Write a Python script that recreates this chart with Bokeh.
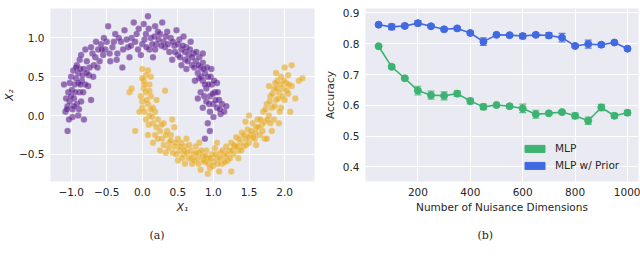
from bokeh.plotting import figure
from bokeh.layouts import row
from bokeh.models import (ColumnDataSource, FixedTicker, Whisker, TeeHead, Legend, LegendItem,
                          Title, Range1d)
from bokeh.embed import file_html
from bokeh.resources import INLINE

# ---------------- data: panel (a) two moons ----------------
moon_top = [
    (-1.08, 0.05), (-1.05, 0.12), (-1.02, 0.18), (-0.98, 0.08), (-1.10, 0.40), (-1.04, 0.30),
    (-0.96, 0.22), (-0.92, 0.15), (-0.88, 0.30), (-0.95, 0.40), (-1.00, 0.50), (-0.90, 0.55),
    (-0.85, 0.45), (-0.82, 0.60), (-0.92, 0.65), (-0.78, 0.70), (-0.88, 0.72), (-0.75, 0.52),
    (-0.70, 0.80), (-0.80, 0.85), (-0.68, 0.65), (-0.98, -0.02), (-1.05, -0.20), (-0.82, -0.05),
    (-0.90, 0.00), (-0.76, 0.38), (-0.72, 0.20), (-1.07, 0.22), (-0.99, 0.33), (-0.86, 0.18),
    (-0.93, 0.48), (-0.87, 0.60),
    (-0.62, 0.85), (-0.55, 0.78), (-0.50, 0.95), (-0.58, 0.92), (-0.45, 0.70), (-0.42, 0.88),
    (-0.38, 1.05), (-0.35, 0.80), (-0.30, 0.95), (-0.25, 1.10), (-0.20, 0.88), (-0.15, 1.00),
    (-0.18, 0.75), (-0.48, 1.15), (-0.60, 0.70), (-0.65, 0.95), (-0.52, 0.85), (-0.28, 0.62),
    (-0.10, 0.95), (-0.05, 1.12), (0.00, 0.92), (0.05, 1.05), (0.08, 1.28), (0.10, 0.85),
    (0.12, 1.00), (0.18, 1.15), (0.20, 0.92), (0.25, 1.05), (0.28, 1.20), (0.30, 0.95),
    (0.35, 1.08), (0.38, 0.82), (0.40, 1.00), (-0.02, 0.78), (0.15, 0.75), (0.02, 1.18),
    (0.22, 1.08), (-0.12, 1.20), (0.32, 0.88),
    (0.45, 0.90), (0.48, 1.10), (0.50, 0.78), (0.52, 0.98), (0.55, 0.85), (0.58, 1.02),
    (0.60, 0.72), (0.62, 0.88), (0.65, 0.78), (0.68, 0.95), (0.70, 0.65), (0.72, 0.80),
    (0.75, 0.70), (0.78, 0.55), (0.80, 0.75), (0.55, 0.65), (0.42, 0.72), (0.62, 0.60),
    (0.82, 0.62), (0.85, 0.68),
    (0.85, 0.45), (0.88, 0.55), (0.90, 0.35), (0.92, 0.50), (0.95, 0.25), (0.98, 0.40),
    (1.00, 0.15), (1.02, 0.30), (1.05, 0.10), (1.08, 0.20), (1.10, 0.02), (1.12, 0.15),
    (0.95, 0.05), (0.90, 0.18), (0.82, 0.30), (1.05, 0.42), (1.15, 0.05), (0.92, -0.10),
    (0.95, -0.20), (0.88, -0.30), (1.00, -0.02), (0.85, 0.10), (0.78, 0.22), (0.97, 0.60),
    (1.18, 0.12),
    (-1.02, 0.42), (-0.97, 0.58), (-1.06, 0.08), (-0.94, 0.30), (-0.90, 0.42), (-0.84, 0.52),
    (-0.80, 0.40), (-0.96, 0.12), (-1.00, 0.25), (-0.89, 0.08), (-0.93, 0.62), (-0.86, 0.78),
    (-0.74, 0.62), (-0.72, 0.88), (-0.66, 0.75), (-0.63, 0.62), (-0.57, 0.85), (-0.54, 1.00),
    (-0.46, 0.80), (-0.40, 0.95), (-0.36, 0.72), (-0.33, 1.00), (-0.27, 0.85), (-0.22, 0.98),
    (-0.16, 0.90), (-0.08, 1.05), (-0.06, 0.85), (0.03, 0.98), (0.06, 0.88), (0.09, 1.12),
    (0.14, 0.92), (0.17, 1.02), (0.23, 0.98), (0.27, 0.90), (0.33, 1.02), (0.36, 0.92),
    (0.43, 0.95), (0.46, 0.82), (0.50, 0.92), (0.53, 0.75), (0.57, 0.90), (0.60, 0.82),
    (0.64, 0.70), (0.67, 0.85), (0.70, 0.75), (0.73, 0.62), (0.76, 0.82), (0.79, 0.65),
    (0.83, 0.50), (0.86, 0.60), (0.88, 0.40), (0.91, 0.62), (0.93, 0.40), (0.96, 0.50),
    (0.99, 0.28), (1.01, 0.45), (1.03, 0.20), (1.06, 0.30), (0.87, 0.25), (0.94, 0.15),
    (1.09, 0.08), (0.80, 0.48), (0.74, 0.45), (-0.78, 0.55), (-0.83, 0.30), (-1.03, -0.05),
    (-0.87, 0.40), (-0.69, 0.50), (0.85, 0.80), (0.18, 0.85),
]
moon_bottom = [
    (-0.18, 0.30), (-0.15, 0.35), (0.00, 0.60), (0.05, 0.52), (0.02, 0.45), (0.08, 0.58),
    (0.10, 0.40), (0.05, 0.30), (-0.02, 0.25), (0.12, 0.25), (0.08, 0.15), (0.00, 0.10),
    (0.15, 0.10), (0.10, 0.00), (0.18, 0.05), (0.05, -0.05), (0.15, -0.10), (0.22, -0.05),
    (-0.10, -0.20), (0.02, 0.35), (0.12, 0.50), (0.32, 0.32), (0.20, -0.15), (0.08, -0.25),
    (0.00, 0.18),
    (0.25, -0.20), (0.30, -0.10), (0.28, -0.30), (0.35, -0.20), (0.38, -0.35), (0.40, -0.25),
    (0.45, -0.40), (0.45, -0.15), (0.50, -0.30), (0.52, -0.45), (0.55, -0.35), (0.58, -0.50),
    (0.60, -0.40), (0.62, -0.30), (0.33, -0.48), (0.50, -0.58), (0.25, -0.45), (0.42, -0.05),
    (0.65, -0.55), (0.15, -0.35),
    (0.68, -0.45), (0.70, -0.62), (0.72, -0.50), (0.75, -0.40), (0.78, -0.55), (0.80, -0.48),
    (0.82, -0.70), (0.85, -0.52), (0.88, -0.60), (0.90, -0.45), (0.92, -0.55), (0.95, -0.68),
    (0.98, -0.50), (1.00, -0.60), (1.02, -0.42), (1.05, -0.55), (1.08, -0.72), (1.10, -0.48),
    (1.12, -0.62), (1.15, -0.52), (1.18, -0.40), (1.20, -0.58), (1.22, -0.45), (0.92, -0.75),
    (1.05, -0.35), (0.80, -0.35), (1.25, -0.72),
    (1.25, -0.35), (1.28, -0.50), (1.30, -0.40), (1.32, -0.28), (1.35, -0.45), (1.38, -0.35),
    (1.40, -0.22), (1.42, -0.40), (1.45, -0.30), (1.48, -0.18), (1.50, -0.35), (1.52, -0.25),
    (1.55, -0.10), (1.58, -0.30), (1.60, -0.15), (1.62, -0.05), (1.65, -0.25), (1.68, -0.12),
    (1.50, 0.00), (1.35, -0.55), (1.60, -0.38), (1.72, -0.30), (1.45, -0.08),
    (1.70, 0.05), (1.72, -0.08), (1.75, 0.15), (1.78, 0.00), (1.80, 0.25), (1.82, 0.10),
    (1.85, 0.35), (1.85, -0.05), (1.88, 0.20), (1.90, 0.45), (1.92, 0.30), (1.95, 0.10),
    (1.95, 0.50), (1.98, 0.35), (2.00, 0.20), (2.02, 0.42), (2.05, 0.28), (2.08, 0.05),
    (2.10, 0.38), (2.10, 0.65), (2.00, 0.62), (1.88, 0.55), (2.15, 0.22), (2.20, 0.45),
    (2.25, 0.48), (1.78, 0.38), (1.92, -0.10), (2.05, 0.52), (1.82, -0.20), (1.75, -0.30),
    (0.03, 0.40), (0.06, 0.20), (0.10, 0.32), (-0.04, 0.05), (0.12, 0.08), (0.14, -0.02),
    (0.03, 0.05), (0.20, 0.20), (0.18, -0.25), (0.22, -0.30), (0.27, -0.12), (0.30, -0.38),
    (0.33, -0.25), (0.37, -0.42), (0.40, -0.32), (0.43, -0.48), (0.47, -0.35), (0.48, -0.50),
    (0.53, -0.40), (0.56, -0.55), (0.59, -0.45), (0.63, -0.48), (0.66, -0.38), (0.69, -0.55),
    (0.73, -0.58), (0.76, -0.48), (0.79, -0.62), (0.83, -0.45), (0.86, -0.58), (0.89, -0.52),
    (0.93, -0.62), (0.96, -0.55), (0.99, -0.65), (1.03, -0.50), (1.06, -0.62), (1.09, -0.55),
    (1.13, -0.45), (1.16, -0.60), (1.19, -0.50), (1.23, -0.55), (1.26, -0.45), (1.29, -0.38),
    (1.33, -0.40), (1.36, -0.30), (1.39, -0.45), (1.43, -0.25), (1.46, -0.38), (1.49, -0.28),
    (1.53, -0.20), (1.56, -0.28), (1.59, -0.22), (1.63, -0.15), (1.66, -0.05), (1.69, -0.20),
    (1.73, 0.08), (1.76, -0.05), (1.79, 0.18), (1.83, 0.28), (1.86, 0.12), (1.89, 0.35),
    (1.91, 0.22), (1.94, 0.40), (1.97, 0.25), (1.99, 0.45), (2.03, 0.32), (2.06, 0.40),
    (1.87, 0.42), (1.93, 0.05), (1.80, -0.10), (0.60, -0.62), (0.00, 0.48), (0.09, -0.12),
]
a_xticks = [-1.0, -0.5, 0.0, 0.5, 1.0, 1.5, 2.0]
a_yticks = [-0.5, 0.0, 0.5, 1.0]

# ---------------- data: panel (b) accuracy vs nuisance dims ----------------
dims = [50, 100, 150, 200, 250, 300, 350, 400, 450, 500,
        550, 600, 650, 700, 750, 800, 850, 900, 950, 1000]
mlp = [0.792, 0.725, 0.688, 0.648, 0.633, 0.631, 0.638, 0.614, 0.595, 0.601,
       0.597, 0.590, 0.571, 0.574, 0.578, 0.566, 0.550, 0.593, 0.566, 0.576]
mlp_err = [0.004, 0.006, 0.004, 0.014, 0.013, 0.013, 0.009, 0.009, 0.009, 0.004,
           0.006, 0.014, 0.013, 0.005, 0.005, 0.009, 0.012, 0.010, 0.008, 0.008]
prior = [0.862, 0.855, 0.858, 0.867, 0.857, 0.847, 0.850, 0.835, 0.807, 0.829,
         0.828, 0.825, 0.829, 0.827, 0.820, 0.793, 0.799, 0.797, 0.804, 0.784]
prior_err = [0.004, 0.009, 0.006, 0.008, 0.005, 0.005, 0.005, 0.005, 0.012, 0.005,
             0.005, 0.008, 0.005, 0.009, 0.014, 0.005, 0.013, 0.007, 0.005, 0.005]
b_xticks = [200, 400, 600, 800, 1000]
b_yticks = [0.4, 0.5, 0.6, 0.7, 0.8, 0.9]
labels = ["MLP", "MLP w/ Prior"]

BG = "#EAEAF2"
TXT = "#262626"
PURPLE = "#5a1a8c"
GOLD = "#e6a81c"
GREEN = "#3cb371"
BLUE = "#4169e1"


def style(p):
    p.background_fill_color = BG
    p.outline_line_color = None
    for ax in p.axis:
        ax.axis_line_color = None
        ax.major_tick_line_color = None
        ax.minor_tick_line_color = None
        ax.major_tick_out = 0
        ax.major_tick_in = 0
        ax.major_label_text_font = "DejaVu Sans"
        ax.major_label_text_font_size = "10.5px"
        ax.major_label_text_color = TXT
        ax.axis_label_text_font = "DejaVu Sans"
        ax.axis_label_text_font_size = "10.5px"
        ax.axis_label_text_font_style = "normal"
        ax.axis_label_text_color = TXT
        ax.major_label_standoff = 6
    for g in p.grid:
        g.grid_line_color = "white"
        g.grid_line_width = 1


def fmt(v, nd):
    s = f"{v:.{nd}f}"
    return s.replace("-", "\u2212")


def caption(text, offset):
    return Title(text=text, align="left", offset=offset, text_font="DejaVu Serif",
                 text_font_style="normal", text_font_size="11px", text_color=TXT,
                 standoff=22)


# ---------------- panel (a) ----------------
pa = figure(width=320, height=259, output_backend="svg", toolbar_location=None,
            x_range=Range1d(-1.29, 2.42), y_range=Range1d(-0.85, 1.38),
            min_border_left=49, min_border_right=6, min_border_top=8, min_border_bottom=78)
pa.scatter([p[0] for p in moon_top], [p[1] for p in moon_top], size=6.5,
           fill_color=PURPLE, fill_alpha=0.6, line_color="white", line_alpha=0.4, line_width=0.4)
pa.scatter([p[0] for p in moon_bottom], [p[1] for p in moon_bottom], size=6.5,
           fill_color=GOLD, fill_alpha=0.6, line_color="white", line_alpha=0.4, line_width=0.4)
pa.xaxis.ticker = FixedTicker(ticks=a_xticks)
pa.yaxis.ticker = FixedTicker(ticks=a_yticks)
pa.xaxis.major_label_overrides = {t: fmt(t, 1) for t in a_xticks}
pa.yaxis.major_label_overrides = {t: fmt(t, 1) for t in a_yticks}
pa.xaxis.axis_label = "X\u2081"
pa.yaxis.axis_label = "X\u2082"
style(pa)
pa.xaxis.axis_label_text_font_style = "italic"
pa.yaxis.axis_label_text_font_style = "italic"
pa.xaxis.axis_label_standoff = 2
pa.yaxis.axis_label_standoff = 1
pa.add_layout(caption("(a)", 99), "below")

# ---------------- panel (b) ----------------
pb = figure(width=320, height=259, output_backend="svg", toolbar_location=None,
            x_range=Range1d(0, 1042), y_range=Range1d(0.3525, 0.9146),
            min_border_left=44, min_border_right=2, min_border_top=0, min_border_bottom=78)
src_m = ColumnDataSource(dict(x=dims, y=mlp,
                              lo=[a - b for a, b in zip(mlp, mlp_err)],
                              hi=[a + b for a, b in zip(mlp, mlp_err)]))
src_p = ColumnDataSource(dict(x=dims, y=prior,
                              lo=[a - b for a, b in zip(prior, prior_err)],
                              hi=[a + b for a, b in zip(prior, prior_err)]))
for src, col in ((src_m, GREEN), (src_p, BLUE)):
    w = Whisker(source=src, base="x", lower="lo", upper="hi", line_color=col, line_width=1.2,
                line_alpha=0.8,
                upper_head=TeeHead(size=7, line_color=col, line_width=1.2, line_alpha=0.8),
                lower_head=TeeHead(size=7, line_color=col, line_width=1.2, line_alpha=0.8))
    pb.add_layout(w)
    pb.line("x", "y", source=src, line_color=col, line_width=1.6)
    pb.scatter("x", "y", source=src, size=7, fill_color=col, line_color=col)

nan = float("nan")
lg_m = pb.quad(left=[nan], right=[nan], top=[nan], bottom=[nan], fill_color=GREEN, line_color=GREEN)
lg_p = pb.quad(left=[nan], right=[nan], top=[nan], bottom=[nan], fill_color=BLUE, line_color=BLUE)
legend = Legend(items=[LegendItem(label=labels[0], renderers=[lg_m]),
                       LegendItem(label=labels[1], renderers=[lg_p])],
                location=(157, 10), background_fill_alpha=0, border_line_color=None,
                label_text_font="DejaVu Sans", label_text_font_size="10.5px",
                label_text_color=TXT, glyph_width=25, glyph_height=9, spacing=5,
                padding=4, margin=0, label_standoff=8)
pb.add_layout(legend)

pb.xaxis.ticker = FixedTicker(ticks=b_xticks)
pb.yaxis.ticker = FixedTicker(ticks=b_yticks)
pb.xaxis.major_label_overrides = {t: str(t) for t in b_xticks}
pb.yaxis.major_label_overrides = {t: f"{t:.1f}" for t in b_yticks}
pb.xaxis.axis_label = "Number of Nuisance Dimensions"
pb.yaxis.axis_label = "Accuracy"
style(pb)
pb.xaxis.axis_label_standoff = 2
pb.yaxis.axis_label_standoff = 4
pb.add_layout(caption("(b)", 112), "below")

lay = row(pa, pb, spacing=0)
open("out.html", "w").write(file_html(lay, INLINE))
